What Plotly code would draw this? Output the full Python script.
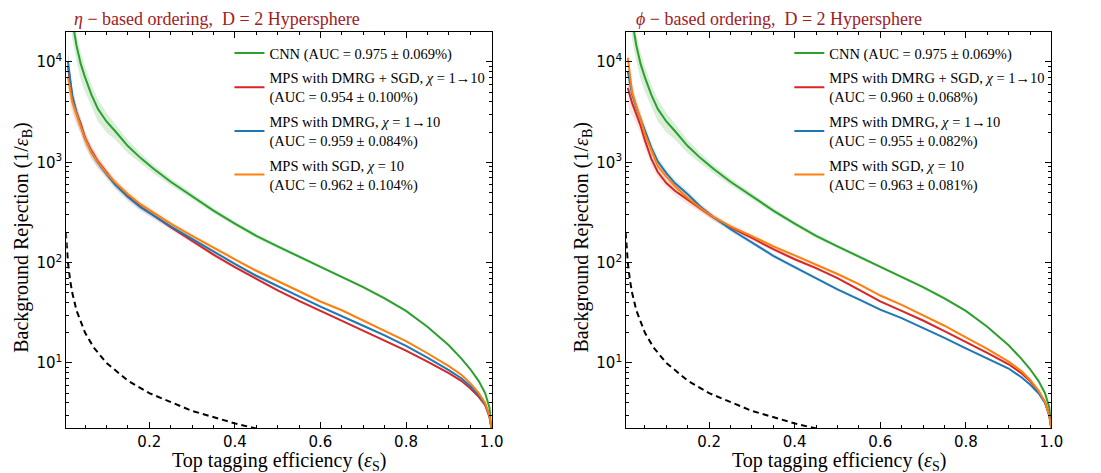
import plotly.graph_objects as go

# ---------------- data ----------------
eff = [0.01, 0.015, 0.02, 0.03, 0.04, 0.05, 0.065, 0.08, 0.1, 0.12, 0.15, 0.18, 0.21,
       0.25, 0.3, 0.35, 0.4, 0.45, 0.5, 0.55, 0.6, 0.65, 0.7, 0.75, 0.8, 0.85, 0.9,
       0.93, 0.95, 0.97, 0.985, 0.995, 1.0]

# CNN (same network in both panels)
cnn = [60000, 40000, 26000, 14500, 9500, 7000, 4700, 3400, 2550, 2050, 1450, 1100, 860,
       640, 455, 330, 245, 185, 145, 115, 90, 72, 57, 44, 33, 23, 15,
       11, 8.7, 6.6, 5.0, 3.6, 2.2]

# eta-based ordering
eta_dmrg_sgd = [9000, 6000, 4500, 3100, 2400, 1750, 1300, 1020, 790, 620, 460, 360, 295,
                225, 165, 120, 90, 69, 53, 41.5, 33, 26.5, 21, 16.8, 13.3, 10.3, 7.9,
                6.6, 5.6, 4.6, 3.8, 2.9, 2.2]
eta_dmrg = [10000, 6500, 4600, 3100, 2350, 1720, 1250, 990, 760, 600, 450, 355, 295,
            230, 172, 128, 97, 74, 58, 46, 36.5, 29.5, 23.5, 18.8, 14.8, 11.3, 8.5,
            7.0, 5.9, 4.8, 3.9, 3.0, 2.2]
eta_sgd = [7000, 5000, 4000, 3000, 2300, 1700, 1250, 1000, 780, 630, 480, 380, 315,
           245, 185, 140, 108, 83, 66, 52, 41, 33.5, 26.5, 21, 16.5, 12.5, 9.3,
           7.6, 6.3, 5.0, 4.0, 3.0, 2.2]

# phi-based ordering
phi_dmrg_sgd = [5500, 4500, 3900, 3000, 2300, 1650, 1080, 800, 620, 520, 420, 345, 282,
                225, 176, 136, 108, 88, 70, 54, 41, 33, 26.5, 20.8, 16.3, 12.6, 9.7,
                7.9, 6.6, 5.2, 4.1, 3.0, 2.2]
phi_dmrg = [8000, 6000, 4800, 3500, 2700, 2000, 1400, 1020, 780, 620, 480, 360, 285,
            215, 160, 117, 90, 70, 54, 43, 34, 28, 22.5, 17.8, 14, 11, 8.8,
            7.2, 6.1, 5.0, 4.0, 3.0, 2.2]
phi_sgd = [11000, 7000, 5000, 3600, 2700, 1900, 1300, 920, 720, 580, 440, 350, 285,
           230, 184, 145, 118, 96, 77, 61, 47, 38, 30, 23.5, 18, 13.8, 10.3,
           8.3, 6.8, 5.3, 4.1, 3.0, 2.2]

# relative half-width of the shaded uncertainty bands
cnn_band = [0.35, 0.35, 0.35, 0.3, 0.3, 0.28, 0.25, 0.25, 0.22, 0.18, 0.15, 0.12, 0.1,
            0.08, 0.07, 0.06, 0.05, 0.05, 0.04, 0.04, 0.03, 0.03, 0.03, 0.03, 0.02, 0.02, 0.02,
            0.02, 0.02, 0.02, 0.02, 0.02, 0.02]
mps_band = [0.3, 0.3, 0.25, 0.2, 0.18, 0.16, 0.14, 0.12, 0.1, 0.1, 0.09, 0.08, 0.07,
            0.06, 0.05, 0.05, 0.04, 0.04, 0.03, 0.03, 0.03, 0.02, 0.02, 0.02, 0.02, 0.02, 0.02,
            0.02, 0.02, 0.02, 0.02, 0.02, 0.02]

# random-classifier reference (1/eps_S)
rand_eff = [0.005, 0.006, 0.008, 0.01, 0.015, 0.02, 0.03, 0.05, 0.07, 0.1, 0.15, 0.2, 0.3, 0.4, 0.45, 0.5]
rand_rej = [200, 166.7, 125, 100, 66.7, 50, 33.3, 20, 14.3, 10, 6.67, 5, 3.33, 2.5, 2.22, 2.0]

panel_titles = ["<i>η</i> − based ordering,  D = 2 Hypersphere",
                "<i>ϕ</i> − based ordering,  D = 2 Hypersphere"]
names_eta = ["CNN (AUC = 0.975 ± 0.069%)",
             "MPS with DMRG + SGD, <i>χ</i> = 1→10<br>(AUC = 0.954 ± 0.100%)",
             "MPS with DMRG, <i>χ</i> = 1→10<br>(AUC = 0.959 ± 0.084%)",
             "MPS with SGD, <i>χ</i> = 10<br>(AUC = 0.962 ± 0.104%)"]
names_phi = ["CNN (AUC = 0.975 ± 0.069%)",
             "MPS with DMRG + SGD, <i>χ</i> = 1→10<br>(AUC = 0.960 ± 0.068%)",
             "MPS with DMRG, <i>χ</i> = 1→10<br>(AUC = 0.955 ± 0.082%)",
             "MPS with SGD, <i>χ</i> = 10<br>(AUC = 0.963 ± 0.081%)"]

x_ticks = [0.2, 0.4, 0.6, 0.8, 1.0]
x_minor = [0.05, 0.1, 0.15, 0.25, 0.3, 0.35, 0.45, 0.5, 0.55, 0.65, 0.7, 0.75, 0.85, 0.9, 0.95]
y_ticks = [10, 100, 1000, 10000]
y_ticktext = ["10<sup>1</sup>", "10<sup>2</sup>", "10<sup>3</sup>", "10<sup>4</sup>"]
y_minor = [3, 4, 5, 6, 7, 8, 9, 20, 30, 40, 50, 60, 70, 80, 90,
           200, 300, 400, 500, 600, 700, 800, 900, 2000, 3000, 4000, 5000, 6000, 7000, 8000, 9000]

# ---------------- styling ----------------
colors = ["#2ca02c", "#d62728", "#1f77b4", "#ff7f0e"]
fills = ["rgba(44,160,44,0.18)", "rgba(214,39,40,0.12)", "rgba(31,119,180,0.12)", "rgba(255,127,14,0.12)"]
SERIF = "Liberation Serif"
SANS = "DejaVu Sans"
W, H = 1101, 473

fig = go.Figure()

panels = [
    ("x", "y", "legend", names_eta, [cnn, eta_dmrg_sgd, eta_dmrg, eta_sgd]),
    ("x2", "y2", "legend2", names_phi, [cnn, phi_dmrg_sgd, phi_dmrg, phi_sgd]),
]

for p, (xa, ya, lg, names, series) in enumerate(panels):
    for i, s in enumerate(series):
        band = cnn_band if i == 0 else mps_band
        lo = [v * (1 - b) for v, b in zip(s, band)]
        hi = [v * (1 + b) for v, b in zip(s, band)]
        fig.add_trace(go.Scatter(x=eff, y=lo, xaxis=xa, yaxis=ya, mode="lines",
                                 line=dict(width=0), showlegend=False, hoverinfo="skip"))
        fig.add_trace(go.Scatter(x=eff, y=hi, xaxis=xa, yaxis=ya, mode="lines",
                                 line=dict(width=0), fill="tonexty", fillcolor=fills[i],
                                 showlegend=False, hoverinfo="skip"))
    fig.add_trace(go.Scatter(x=rand_eff, y=rand_rej, xaxis=xa, yaxis=ya, mode="lines",
                             line=dict(color="black", width=2, dash="6px,4px"),
                             showlegend=False, hoverinfo="skip"))
    for i, s in enumerate(series):
        fig.add_trace(go.Scatter(x=eff, y=s, xaxis=xa, yaxis=ya, mode="lines",
                                 line=dict(color=colors[i], width=2),
                                 name=names[i], legend=lg, legendgroup=f"p{p}s{i}"))

x_dom = [[67 / W, 497 / W], [633 / W, 1063 / W]]
y_dom = [1 - 428 / H, 1 - 31.7 / H]

common_x = dict(range=[0.006, 1.0], tickmode="array", tickvals=x_ticks,
                ticktext=[f"{v:.1f}" for v in x_ticks], ticks="inside", ticklen=6,
                tickcolor="black", showline=True, linecolor="black", linewidth=1,
                mirror="allticks", showgrid=False, zeroline=False,
                tickfont=dict(family=SANS, size=15, color="black"),
                minor=dict(tickvals=x_minor, ticks="inside", ticklen=3, tickcolor="black",
                           showgrid=False))
common_y = dict(type="log", range=[0.352, 4.301], tickmode="array", tickvals=y_ticks,
                ticktext=y_ticktext, ticks="inside", ticklen=6, tickcolor="black",
                showline=True, linecolor="black", linewidth=1, mirror="allticks",
                showgrid=False, zeroline=False,
                tickfont=dict(family=SANS, size=15, color="black"),
                minor=dict(tickvals=y_minor, ticks="inside", ticklen=3, tickcolor="black",
                           showgrid=False))

legend_font = dict(family=SERIF, size=14.5, color="black")
fig.update_layout(
    width=W, height=H, margin=dict(l=0, r=0, t=0, b=0),
    paper_bgcolor="white", plot_bgcolor="white",
    xaxis=dict(domain=x_dom[0], anchor="y", **common_x),
    xaxis2=dict(domain=x_dom[1], anchor="y2", **common_x),
    yaxis=dict(domain=y_dom, anchor="x", **common_y),
    yaxis2=dict(domain=y_dom, anchor="x2", **common_y),
    legend=dict(x=232 / W, y=1 - 37 / H, xanchor="left", yanchor="top",
                bgcolor="rgba(0,0,0,0)", font=legend_font, traceorder="grouped",
                tracegroupgap=3),
    legend2=dict(x=798 / W, y=1 - 37 / H, xanchor="left", yanchor="top",
                 bgcolor="rgba(0,0,0,0)", font=legend_font, traceorder="grouped",
                 tracegroupgap=3),
    showlegend=True,
)

annos = []
title_x = [73 / W, 641 / W]
xt_center = [282 / W, 848 / W]
yt_center = [22 / W, 588 / W]
for k in range(2):
    annos.append(dict(text=panel_titles[k], x=title_x[k], y=1 - 19 / H, xref="paper", yref="paper",
                      xanchor="left", yanchor="middle", showarrow=False,
                      font=dict(family=SERIF, size=18, color="#a0201f")))
    annos.append(dict(text="Top tagging efficiency (<i>ε</i><sub>S</sub>)", x=xt_center[k], y=1 - 461 / H,
                      xref="paper", yref="paper", xanchor="center", yanchor="middle",
                      showarrow=False, font=dict(family=SERIF, size=20, color="black")))
    annos.append(dict(text="Background Rejection (1/<i>ε</i><sub>B</sub>)", x=yt_center[k],
                      y=1 - 237 / H, xref="paper", yref="paper", xanchor="center",
                      yanchor="middle", textangle=-90, showarrow=False,
                      font=dict(family=SERIF, size=20, color="black")))
fig.update_layout(annotations=annos)

fig.write_html("out.html")
